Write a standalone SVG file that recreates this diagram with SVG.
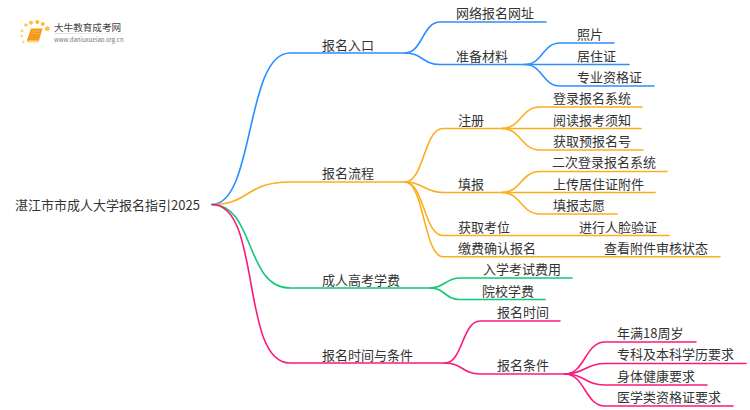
<svg xmlns="http://www.w3.org/2000/svg" width="750" height="410" viewBox="0 0 750 410">
<style>
text{font-family:"Noto Sans CJK SC","Noto Sans",sans-serif;font-size:13px;fill:#333}
.c path{fill:none;stroke-width:1.6;stroke-linecap:round}
.b path{stroke:#2b8fff}.o path{stroke:#fbae1e}.g path{stroke:#10c878}.p path{stroke:#fb1a7c}
</style>
<defs><linearGradient id="fade"><stop offset="0" stop-color="#ddd"/><stop offset="1" stop-color="#fff"/></linearGradient></defs>
<rect width="750" height="410" fill="#fff"/>
<g id="logo">
<circle cx="26" cy="25" r="1.800" fill="#fbc85a"/><circle cx="31" cy="22.700" r="2" fill="#fbc040"/><circle cx="37.300" cy="22" r="2" fill="#fbbb30"/><circle cx="42.700" cy="24" r="2" fill="#fbbb30"/><circle cx="47.300" cy="28.700" r="2.400" fill="#fbc040"/><circle cx="22" cy="30.700" r="1.500" fill="#fcd47a"/><circle cx="21.700" cy="36" r="1.300" fill="#fcd47a"/><circle cx="23.300" cy="42" r="1.200" fill="#fcd47a"/>
<path d="M31 28.500H42.500L39 40.500L38 42H28.500Q26.500 42 27 40Z" fill="#f59a1a"/><path d="M28 40.500H38.500L38 42.500H28Z" fill="#fcd98c"/><path d="M32 31H40M31.500 33.500H39" stroke="#fbc050" stroke-width=".7" fill="none"/>
<rect x="54" y="33" width="80" height="1" fill="url(#fade)"/>
<text x="54" y="31" style="font-size:9.600px;fill:#444">大牛教育成考网</text>
<text x="54" y="41.500" style="font-size:6px;fill:#777">www.daniuxueiao.org.cn</text>
</g>
<g id="connectors" class="c">
<g class="b">
<path d="M212 204.500C255 204.500 245 53 290 53H405"/>
<path d="M405 53C422.500 53 422.500 22 440 22H546"/>
<path d="M405 53C422.500 53 422.500 64.500 440 64.500H525"/>
<path d="M525 64.500C542.500 64.500 542.500 43 560 43H614"/>
<path d="M525 64.500H629"/>
<path d="M525 64.500C542.500 64.500 542.500 86 560 86H654"/>
</g>
<g class="o">
<path d="M212 204.500C250 204.500 245 182 290 182H405"/>
<path d="M405 182C424 182 424 128.500 443 128.500H502"/>
<path d="M405 182C424 182 424 192.500 443 192.500H502"/>
<path d="M405 182C424 182 424 235.500 443 235.500H669"/>
<path d="M405 182C424 182 424 256.700 443 256.700H720"/>
<path d="M502 128.500C521 128.500 521 107 540 107H642"/>
<path d="M502 128.500H641"/>
<path d="M502 128.500C521 128.500 521 150 540 150H643"/>
<path d="M502 192.500C521 192.500 521 171.500 540 171.500H667"/>
<path d="M502 192.500H655"/>
<path d="M502 192.500C521 192.500 521 214 540 214H617"/>
</g>
<g class="g">
<path d="M212 204.500C255 204.500 245 288 290 288H430"/>
<path d="M430 288C445 288 445 278 460 278H572"/>
<path d="M430 288C445 288 445 299.500 460 299.500H545"/>
</g>
<g class="p">
<path d="M212 204.500C262 204.500 240 363 290 363H445"/>
<path d="M445 363C462.500 363 462.500 321 480 321H560"/>
<path d="M445 363C462.500 363 462.500 374 480 374H565"/>
<path d="M565 374C585 374 585 342 605 342H696"/>
<path d="M565 374C585 374 585 363.500 605 363.500H746"/>
<path d="M565 374C585 374 585 385 605 385H707"/>
<path d="M565 374C585 374 585 406 605 406H733"/>
</g>
</g>
<g id="root"><text x="15" y="210">湛江市市成人大学报名指引2025</text></g>
<g id="n1"><text x="322" y="50">报名入口</text></g>
<g id="n2"><text x="456" y="18">网络报名网址</text></g>
<g id="n3"><text x="456" y="61">准备材料</text></g>
<g id="n4"><text x="577" y="39">照片</text></g>
<g id="n5"><text x="577" y="61">居住证</text></g>
<g id="n6"><text x="577" y="82">专业资格证</text></g>
<g id="n7"><text x="322" y="178">报名流程</text></g>
<g id="n8"><text x="458" y="125">注册</text></g>
<g id="n9"><text x="458" y="189">填报</text></g>
<g id="n10"><text x="458" y="232">获取考位</text></g>
<g id="n11"><text x="458" y="253">缴费确认报名</text></g>
<g id="n12"><text x="553" y="103">登录报名系统</text></g>
<g id="n13"><text x="553" y="125">阅读报考须知</text></g>
<g id="n14"><text x="553" y="146">获取预报名号</text></g>
<g id="n15"><text x="552" y="167">二次登录报名系统</text></g>
<g id="n16"><text x="553" y="189">上传居住证附件</text></g>
<g id="n17"><text x="553" y="210">填报志愿</text></g>
<g id="n18"><text x="579" y="232">进行人脸验证</text></g>
<g id="n19"><text x="604" y="253">查看附件审核状态</text></g>
<g id="n20"><text x="322" y="285">成人高考学费</text></g>
<g id="n21"><text x="483" y="274">入学考试费用</text></g>
<g id="n22"><text x="482" y="296">院校学费</text></g>
<g id="n23"><text x="322" y="360">报名时间与条件</text></g>
<g id="n24"><text x="497" y="317">报名时间</text></g>
<g id="n25"><text x="497" y="370">报名条件</text></g>
<g id="n26"><text x="617" y="338">年满18周岁</text></g>
<g id="n27"><text x="617" y="359">专科及本科学历要求</text></g>
<g id="n28"><text x="617" y="381">身体健康要求</text></g>
<g id="n29"><text x="617" y="402">医学类资格证要求</text></g>
</svg>
